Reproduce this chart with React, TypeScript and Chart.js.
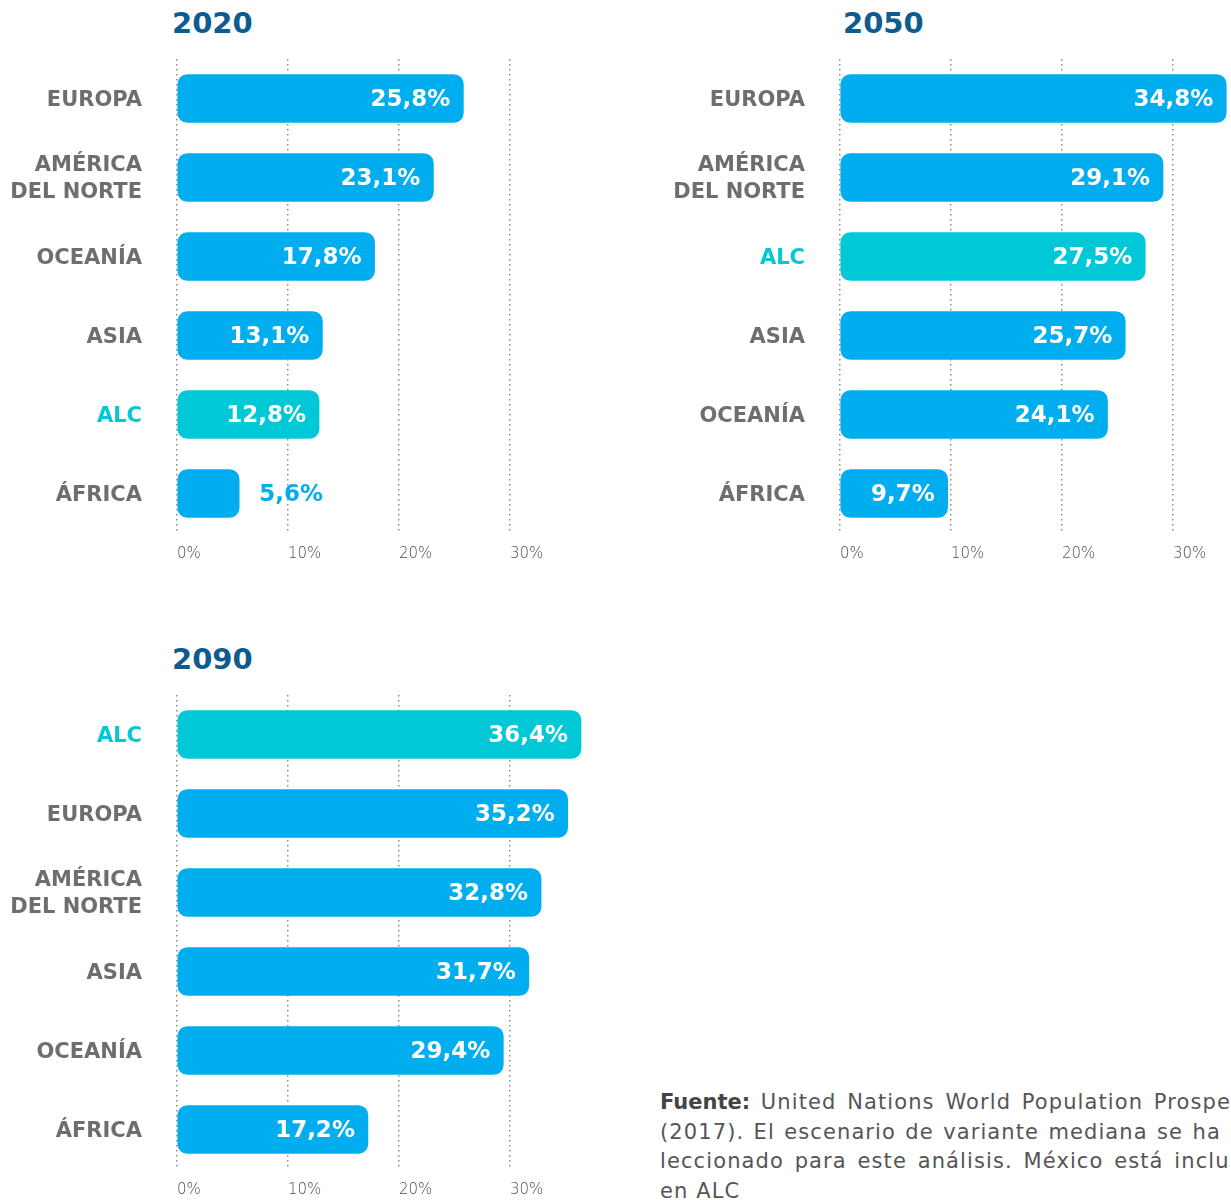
import React, { useEffect, useRef } from 'react';
import { Chart, registerables } from 'chart.js';
Chart.register(...registerables);

const categories2020: (string | string[])[] = ['EUROPA', ['AMÉRICA', 'DEL NORTE'], 'OCEANÍA', 'ASIA', 'ALC', 'ÁFRICA'];
const values2020 = [25.8, 23.1, 17.8, 13.1, 12.8, 5.6];
const categories2050: (string | string[])[] = ['EUROPA', ['AMÉRICA', 'DEL NORTE'], 'ALC', 'ASIA', 'OCEANÍA', 'ÁFRICA'];
const values2050 = [34.8, 29.1, 27.5, 25.7, 24.1, 9.7];
const categories2090: (string | string[])[] = ['ALC', 'EUROPA', ['AMÉRICA', 'DEL NORTE'], 'ASIA', 'OCEANÍA', 'ÁFRICA'];
const values2090 = [36.4, 35.2, 32.8, 31.7, 29.4, 17.2];
const tickStep = 10;
const highlightCategory = 'ALC';

const FONT = '"DejaVu Sans", "Open Sans", sans-serif';
const BLUE = '#00aeef';
const CYAN = '#00c8d7';
const GRAY = '#6d6e71';

const fmt = (v: number) => v.toFixed(1).replace('.', ',') + '%';

const valueLabelPlugin = {
  id: 'valueLabels',
  afterDatasetsDraw(chart: any) {
    const ctx = chart.ctx;
    const meta = chart.getDatasetMeta(0);
    const data = chart.data.datasets[0].data as number[];
    ctx.save();
    ctx.font = `bold 23px ${FONT}`;
    ctx.textBaseline = 'middle';
    meta.data.forEach((bar: any, i: number) => {
      const text = fmt(data[i]);
      const w = ctx.measureText(text).width;
      const left = bar.base;
      const right = bar.x;
      if (right - left > w + 30) {
        ctx.fillStyle = '#ffffff';
        ctx.textAlign = 'right';
        ctx.fillText(text, right - 13, bar.y + 2);
      } else {
        ctx.fillStyle = BLUE;
        ctx.textAlign = 'left';
        ctx.fillText(text, right + 20, bar.y + 2);
      }
    });
    ctx.restore();
  },
};

type PanelProps = {
  categories: (string | string[])[];
  values: number[];
  left: number;
  top: number;
  width: number;
  height: number;
  axisWidth: number;
  max: number;
};

function Panel({ categories, values, left, top, width, height, axisWidth, max }: PanelProps) {
  const ref = useRef<HTMLCanvasElement>(null);
  useEffect(() => {
    if (!ref.current) return;
    const isHi = (i: number) => categories[i] === highlightCategory;
    const chart = new Chart(ref.current, {
      type: 'bar',
      data: {
        labels: categories as any,
        datasets: [
          {
            data: values,
            backgroundColor: values.map((_, i) => (isHi(i) ? CYAN : BLUE)),
            borderRadius: 10,
            borderSkipped: false,
            barThickness: 48,
          },
        ],
      },
      options: {
        indexAxis: 'y',
        animation: false,
        responsive: false,
        layout: { padding: { top: 19, right: 0, left: 0, bottom: 0 } },
        plugins: { legend: { display: false }, tooltip: { enabled: false }, title: { display: false } },
        scales: {
          x: {
            min: 0,
            max,
            grid: { display: true, drawTicks: false, color: '#8a8a8a', lineWidth: 1.5 },
            border: { display: false, dash: [1.5, 3.5] },
            ticks: {
              stepSize: tickStep,
              includeBounds: false,
              align: 'start',
              padding: 12,
              color: '#4d4d4d',
              font: { family: FONT, size: 15, weight: 300 as any },
              callback: (v: any) => v + '%',
            },
            afterFit: (scale: any) => {
              scale.height = 47;
            },
          },
          y: {
            grid: { display: false, drawTicks: true, tickLength: 35 },
            border: { display: false },
            ticks: {
              padding: 0,
              labelOffset: 2,
              color: (c: any) => (isHi(c.index) ? CYAN : GRAY),
              font: { family: FONT, size: 21, weight: 'bold', lineHeight: 1.29 },
            },
            afterFit: (scale: any) => {
              scale.width = axisWidth;
            },
          },
        },
      },
      plugins: [valueLabelPlugin],
    });
    return () => chart.destroy();
  }, []);
  return (
    <div style={{ position: 'absolute', left, top, width, height }}>
      <canvas ref={ref} width={width} height={height} style={{ width, height, display: 'block' }} />
    </div>
  );
}

const titleStyle = (left: number, top: number): React.CSSProperties => ({
  position: 'absolute',
  left,
  top,
  fontFamily: FONT,
  fontWeight: 700,
  fontSize: 29,
  lineHeight: '34px',
  color: '#0d5b8f',
});

const lineStyle: React.CSSProperties = {
  whiteSpace: 'nowrap',
  textAlign: 'justify',
  textAlignLast: 'justify',
  width: 605,
};

export default function App() {
  return (
    <div style={{ position: 'absolute', left: 0, top: 0, width: 1231, height: 1200, overflow: 'hidden', background: '#fff' }}>
      <div style={titleStyle(172, 6)}>2020</div>
      <div style={titleStyle(843, 6)}>2050</div>
      <div style={titleStyle(172, 642)}>2090</div>
      <Panel categories={categories2020} values={values2020} left={0} top={40} width={600} height={540} axisWidth={177} max={423 / 11.1} />
      <Panel categories={categories2050} values={values2050} left={650} top={40} width={581} height={540} axisWidth={190} max={391 / 11.1} />
      <Panel categories={categories2090} values={values2090} left={0} top={676} width={600} height={540} axisWidth={177} max={423 / 11.1} />
      <div
        style={{
          position: 'absolute',
          left: 660,
          top: 1088,
          fontFamily: FONT,
          fontSize: 21,
          letterSpacing: '1.1px',
          lineHeight: '29.5px',
          color: '#555555',
        }}
      >
        <div style={lineStyle}>
          <b style={{ color: '#444', letterSpacing: 0 }}>Fuente:</b> United Nations World Population Prospects
        </div>
        <div style={lineStyle}>(2017). El escenario de variante mediana se ha se-</div>
        <div style={lineStyle}>leccionado para este análisis. México está incluido</div>
        <div style={{ whiteSpace: 'nowrap' }}>en ALC</div>
      </div>
    </div>
  );
}
